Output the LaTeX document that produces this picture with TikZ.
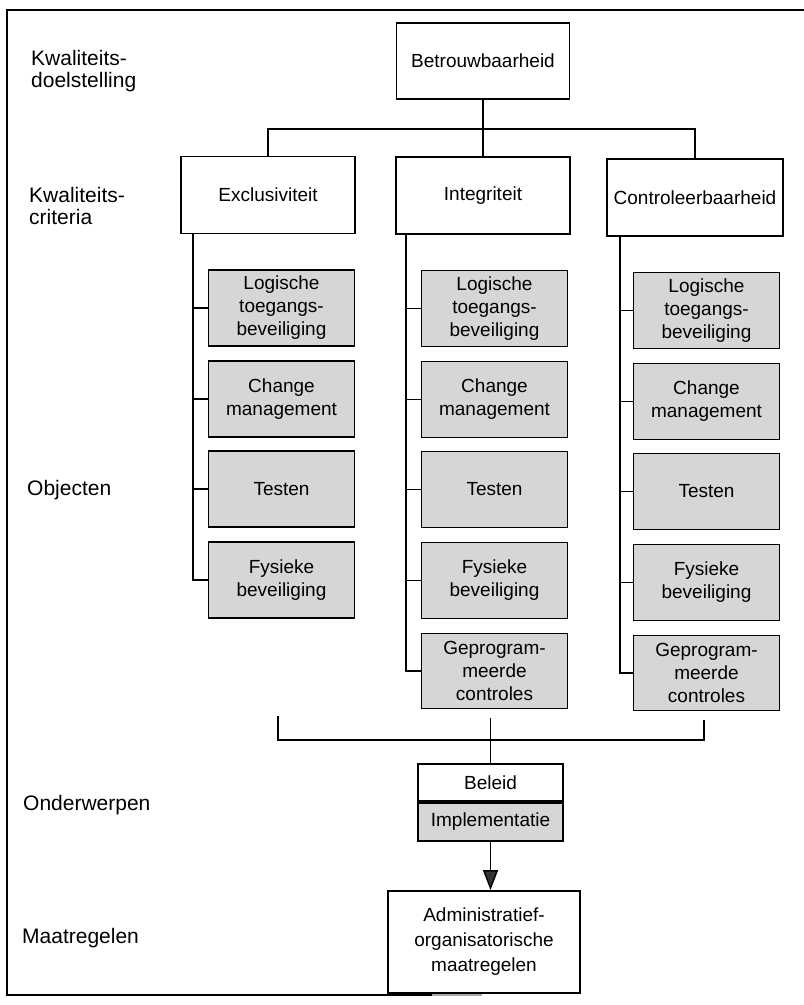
\documentclass[tikz,border=0pt]{standalone}
\usepackage{fontspec}
\setmainfont{Liberation Sans}
\usetikzlibrary{arrows.meta}

\begin{document}
\begin{tikzpicture}[x=1pt,y=-1pt,
  every node/.style={inner sep=0pt},
  boxtext/.style={font=\fontsize{19pt}{23pt}\selectfont, align=center},
  whitebox/.style={boxtext, draw, line width=1.8pt, fill=white},
  greybox/.style={boxtext, draw, line width=1.8pt, fill=black!16},
  critbox/.style={whitebox, minimum width=174pt, minimum height=77pt},
  objbox/.style={greybox, minimum width=146pt, minimum height=76pt},
  sidelabel/.style={font=\fontsize{21pt}{22pt}\selectfont, align=left},
  link/.style={line width=1.4pt},
]
\useasboundingbox (0,0) rectangle (804,1005);

% frame (open on the right, bottom edge fading out)
\draw[line width=1.7pt] (804,10) -- (7,10) -- (7,995) -- (432,995);
\draw[line width=1.7pt, black!35] (432,995) -- (482,995);

% level labels
\node[sidelabel, anchor=west] (lgoal) at (31,71.5) {Kwaliteits-\\doelstelling};
\node[sidelabel, anchor=west] (lcrit) at (29,205.5) {Kwaliteits-\\criteria};
\node[sidelabel, anchor=base west] (lobj) at (27,495) {Objecten};
\node[sidelabel, anchor=base west] (lsub) at (23,810) {Onderwerpen};
\node[sidelabel, anchor=base west] (lmeas) at (22,943) {Maatregelen};

% goal and criteria
\node[critbox, minimum width=173pt, minimum height=76pt] (goal) at (483,61) {Betrouwbaarheid};
\node[critbox] (excl)  at (268,195)   {Exclusiviteit};
\node[critbox] (integ) at (483,195.5) {Integriteit};
\node[critbox, minimum width=176pt] (contr) at (695,197.5) {Controleerbaarheid};

\coordinate (bar) at (0,129);
\draw[link] (goal.south) -- (integ.north);
\draw[link] (excl.north) -- (excl.north |- bar) -- (contr.north |- bar) -- (contr.north);

% objects under Exclusiviteit
\node[objbox] (e1) at (281.5,308) {Logische\\toegangs-\\beveiliging};
\node[objbox] (e2) at (281.5,399) {Change\\management};
\node[objbox] (e3) at (281.5,489) {Testen};
\node[objbox] (e4) at (281.5,580) {Fysieke\\beveiliging};

% objects under Integriteit
\node[objbox] (i1) at (494.5,308.5) {Logische\\toegangs-\\beveiliging};
\node[objbox] (i2) at (494.5,399.5) {Change\\management};
\node[objbox] (i3) at (494.5,489.5) {Testen};
\node[objbox] (i4) at (494.5,580.5) {Fysieke\\beveiliging};
\node[objbox, minimum height=75pt] (i5) at (494.5,671) {Geprogram-\\meerde\\controles};

% objects under Controleerbaarheid
\node[objbox] (c1) at (706.5,310.5) {Logische\\toegangs-\\beveiliging};
\node[objbox] (c2) at (706.5,401.5) {Change\\management};
\node[objbox] (c3) at (706.5,491.5) {Testen};
\node[objbox] (c4) at (706.5,582.5) {Fysieke\\beveiliging};
\node[objbox, minimum height=75pt] (c5) at (706.5,673) {Geprogram-\\meerde\\controles};

% trunks with ticks
\coordinate (te) at ([xshift=-75pt]excl.south);
\draw[link] (te) |- (e4.west);
\foreach \n in {e1,e2,e3} \draw[link] (te |- \n.west) -- (\n.west);

\coordinate (ti) at ([xshift=-77pt]integ.south);
\draw[link] (ti) |- (i5.west);
\foreach \n in {i1,i2,i3,i4} \draw[link] (ti |- \n.west) -- (\n.west);

\coordinate (tc) at ([xshift=-75pt]contr.south);
\draw[link] (tc) |- (c5.west);
\foreach \n in {c1,c2,c3,c4} \draw[link] (tc |- \n.west) -- (\n.west);

% subjects
\node[whitebox, minimum width=145pt, minimum height=37pt] (beleid) at (490.5,782.5) {Beleid};
\node[greybox, minimum width=145pt, minimum height=38pt, anchor=north] (impl) at (beleid.south) {Implementatie};

% bracket gathering the three columns
\coordinate (bl) at (278,716);
\coordinate (br) at (704,720);
\coordinate (bbar) at (0,740);
\draw[link] (bl) -- (bl |- bbar) -- (br |- bbar) -- (br);
\draw[link] (beleid.north |- 0,718) -- (beleid.north);

% measures
\node[whitebox, font=\fontsize{19pt}{25pt}\selectfont, minimum width=192pt, minimum height=102pt] (admin) at (484,942) {Administratief-\\organisatorische\\maatregelen};
\draw[link, -{Triangle[width=15pt,length=20pt,fill=black!80]}] (impl.south) -- (impl.south |- admin.north);

\end{tikzpicture}
\end{document}
